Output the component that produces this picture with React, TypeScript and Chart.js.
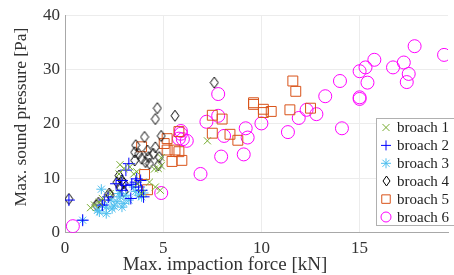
import React, { useEffect, useRef } from 'react';
import { Chart, registerables } from 'chart.js';
import { drawPoint } from 'chart.js/helpers';
Chart.register(...registerables);

const xTicks = [0, 5, 10, 15];
const yTicks = [0, 10, 20, 30, 40];
const seriesNames = ['broach 1', 'broach 2', 'broach 3', 'broach 4', 'broach 5', 'broach 6'];
const xTitle = 'Max. impaction force [kN]';
const yTitle = 'Max. sound pressure [Pa]';

const b1X = [1.3, 1.5, 1.75, 1.9, 2.3, 2.75, 2.8, 3.0, 3.3, 3.5, 3.65, 3.7, 3.9, 4.3, 4.55, 4.6, 4.85, 4.75, 4.9, 4.9, 7.25];
const b1Y = [4.6, 5.1, 5.6, 6.3, 7.2, 10.8, 12.5, 11.8, 12.1, 10.8, 11.2, 9.0, 7.2, 9.3, 11.7, 8.4, 7.8, 11.8, 12.3, 13.8, 16.9];

const b2X = [0.2, 0.9, 1.9, 2.0, 2.2, 2.6, 2.9, 2.9, 3.1, 3.1, 3.25, 3.35, 3.4, 3.6, 3.65, 3.75, 3.85, 3.9, 4.0];
const b2Y = [6.0, 2.3, 5.1, 6.0, 6.6, 9.0, 9.6, 7.8, 8.7, 11.5, 12.7, 6.3, 8.9, 9.3, 9.9, 8.4, 9.6, 7.8, 6.6];

const b3X = [0.9, 1.65, 1.75, 1.85, 1.9, 2.1, 2.1, 2.35, 2.4, 2.5, 2.65, 2.75, 2.8, 2.9, 3.0, 3.1, 3.25, 3.5, 3.6, 3.75, 3.9, 4.0];
const b3Y = [2.3, 4.1, 3.8, 8.0, 5.0, 3.5, 4.7, 6.0, 4.4, 4.9, 5.7, 7.2, 6.6, 4.7, 5.4, 6.9, 6.0, 8.4, 7.6, 6.9, 6.6, 7.3];

const b4X = [0.2, 1.6, 1.7, 2.25, 2.3, 2.65, 2.75, 2.8, 2.9, 3.0, 3.0, 3.55, 3.55, 3.6, 3.75, 3.9, 4.05, 4.1, 4.2, 4.25, 4.3, 4.5, 4.6, 4.6, 4.7, 4.75, 4.8, 4.9, 5.6, 7.6];
const b4Y = [6.2, 5.1, 5.5, 7.2, 6.9, 9.3, 10.5, 8.4, 9.6, 7.6, 9.1, 13.3, 14.8, 16.1, 14.5, 13.6, 17.6, 13.0, 15.1, 13.9, 12.7, 14.5, 15.7, 20.9, 22.9, 12.4, 13.9, 17.8, 21.5, 27.6];

const b5X = [3.9, 4.05, 4.2, 5.05, 5.2, 5.2, 5.45, 5.6, 5.8, 5.8, 5.95, 7.5, 8.0, 7.5, 8.4, 8.8, 9.6, 9.6, 10.1, 10.1, 10.5, 11.45, 11.6, 11.75, 12.5];
const b5Y = [15.8, 10.7, 7.9, 16.4, 17.3, 15.2, 13.1, 15.2, 14.9, 18.6, 13.3, 21.6, 20.9, 18.3, 18.1, 17.0, 23.6, 23.9, 22.7, 22.1, 22.3, 22.6, 27.9, 26.0, 22.9];

const b6X = [0.4, 4.9, 5.8, 5.9, 6.0, 5.9, 6.2, 6.9, 7.2, 7.8, 7.8, 7.95, 8.1, 9.1, 9.2, 9.3, 10.0, 11.35, 11.9, 12.3, 12.8, 13.25, 14.0, 14.1, 15.0, 15.3, 15.75, 15.4, 15.0, 15.0, 16.7, 17.25, 17.5, 17.4, 17.8, 19.3];
const b6Y = [1.2, 7.3, 17.3, 18.2, 17.2, 18.7, 16.9, 10.8, 20.4, 25.5, 21.5, 14.0, 17.8, 14.4, 19.2, 17.5, 20.1, 18.5, 21.1, 22.6, 21.8, 25.1, 27.9, 19.2, 29.7, 30.4, 31.8, 27.6, 24.9, 24.6, 30.4, 31.3, 29.2, 27.7, 34.3, 32.7];

const xs = [b1X, b2X, b3X, b4X, b5X, b6X];
const ys = [b1Y, b2Y, b3Y, b4Y, b5Y, b6Y];
const colors = ['#77AC30', '#0000FF', '#4DBEEE', '#000000', '#D95319', '#FF00FF'];
const styles = ['crossRot', 'cross', 'star', 'diamond', 'rect', 'circle'];
const radii = [5, 6, 5, 5, 7, 6.5];

const FONT = "'Liberation Serif', 'Times New Roman', serif";

function makeDiamond(color: string, w: number, h: number) {
  const c = document.createElement('canvas');
  c.width = w + 2;
  c.height = h + 2;
  const g = c.getContext('2d')!;
  g.strokeStyle = color;
  g.lineWidth = 1;
  g.beginPath();
  g.moveTo(1 + w / 2, 1);
  g.lineTo(1 + w, 1 + h / 2);
  g.lineTo(1 + w / 2, 1 + h);
  g.lineTo(1, 1 + h / 2);
  g.closePath();
  g.stroke();
  return c;
}

export default function App() {
  const ref = useRef<HTMLCanvasElement>(null);
  useEffect(() => {
    const diamond = makeDiamond(colors[3], 8, 11);
    const legendDiamond = makeDiamond(colors[3], 7, 10);
    const overlayPlugin = {
      id: 'overlay',
      afterDraw(chart: any) {
        const ctx = chart.ctx;
        ctx.save();
        ctx.fillStyle = '#333333';
        ctx.textAlign = 'center';
        ctx.textBaseline = 'alphabetic';
        ctx.font = `19px ${FONT}`;
        ctx.fillText(xTitle, 225, 270);
        ctx.save();
        ctx.translate(26, 117);
        ctx.rotate(-Math.PI / 2);
        ctx.font = `17.5px ${FONT}`;
        ctx.fillText(yTitle, 0, 0);
        ctx.restore();
        const w = 78, rowH = 17.9, h = 107;
        const left = 376, top = 118;
        ctx.fillStyle = '#ffffff';
        ctx.fillRect(left, top, w, h);
        ctx.strokeStyle = '#b0b0b0';
        ctx.lineWidth = 1;
        ctx.strokeRect(left + 0.5, top + 0.5, w, h);
        ctx.font = `15px ${FONT}`;
        ctx.textBaseline = 'middle';
        ctx.textAlign = 'left';
        seriesNames.forEach((name, i) => {
          const cy = top + 9.5 + i * rowH;
          ctx.strokeStyle = colors[i];
          ctx.fillStyle = 'rgba(0,0,0,0)';
          ctx.lineWidth = 1;
          if (styles[i] === 'diamond') {
            ctx.drawImage(legendDiamond, Math.round(386 - legendDiamond.width / 2), Math.round(cy - legendDiamond.height / 2));
          } else {
            drawPoint(ctx, { pointStyle: styles[i], rotation: 0, radius: i === 4 ? 6 : 5, borderWidth: 1 } as any, 386, cy);
          }
          ctx.fillStyle = '#222222';
          ctx.fillText(name, 397, cy + 1);
        });
        ctx.restore();
      },
    };
    const datasets = seriesNames.map((name, i) => ({
      label: name,
      data: xs[i].map((x, j) => ({ x, y: ys[i][j] })),
      pointStyle: styles[i] === 'diamond' ? diamond : styles[i],
      pointRadius: radii[i],
      borderColor: colors[i],
      backgroundColor: 'rgba(0,0,0,0)',
      borderWidth: 1,
      showLine: false,
    }));
    const chart = new Chart(ref.current!, {
      type: 'scatter',
      data: { datasets } as any,
      plugins: [overlayPlugin],
      options: {
        animation: false,
        responsive: false,
        layout: { padding: { top: 13, right: 1, left: 0, bottom: 0 } },
        plugins: { legend: { display: false }, tooltip: { enabled: false } },
        scales: {
          x: {
            type: 'linear',
            min: 0,
            max: 19.5,
            afterBuildTicks: (s: any) => { s.ticks = xTicks.map((v) => ({ value: v })); },
            afterFit: (s: any) => { s.height = 42.3; },
            ticks: { color: '#333', font: { family: FONT, size: 17 }, padding: 6 },
            grid: { color: '#ececec', drawTicks: false },
            border: { color: '#a8a8a8' },
            title: { display: false },
          },
          y: {
            type: 'linear',
            min: 0,
            max: 40,
            afterBuildTicks: (s: any) => { s.ticks = yTicks.map((v) => ({ value: v })); },
            afterFit: (s: any) => { s.width = 65; },
            ticks: { color: '#333', font: { family: FONT, size: 17 }, padding: 5 },
            grid: { color: '#ececec', drawTicks: false },
            border: { color: '#a8a8a8' },
            title: { display: false },
          },
        },
      },
    });
    return () => chart.destroy();
  }, []);
  return (
    <div style={{ position: 'fixed', left: 0, top: 0, width: 454, height: 275, overflow: 'hidden', background: '#fff' }}>
      <canvas ref={ref} width={456} height={275} style={{ display: 'block', width: 456, height: 275 }} />
    </div>
  );
}
